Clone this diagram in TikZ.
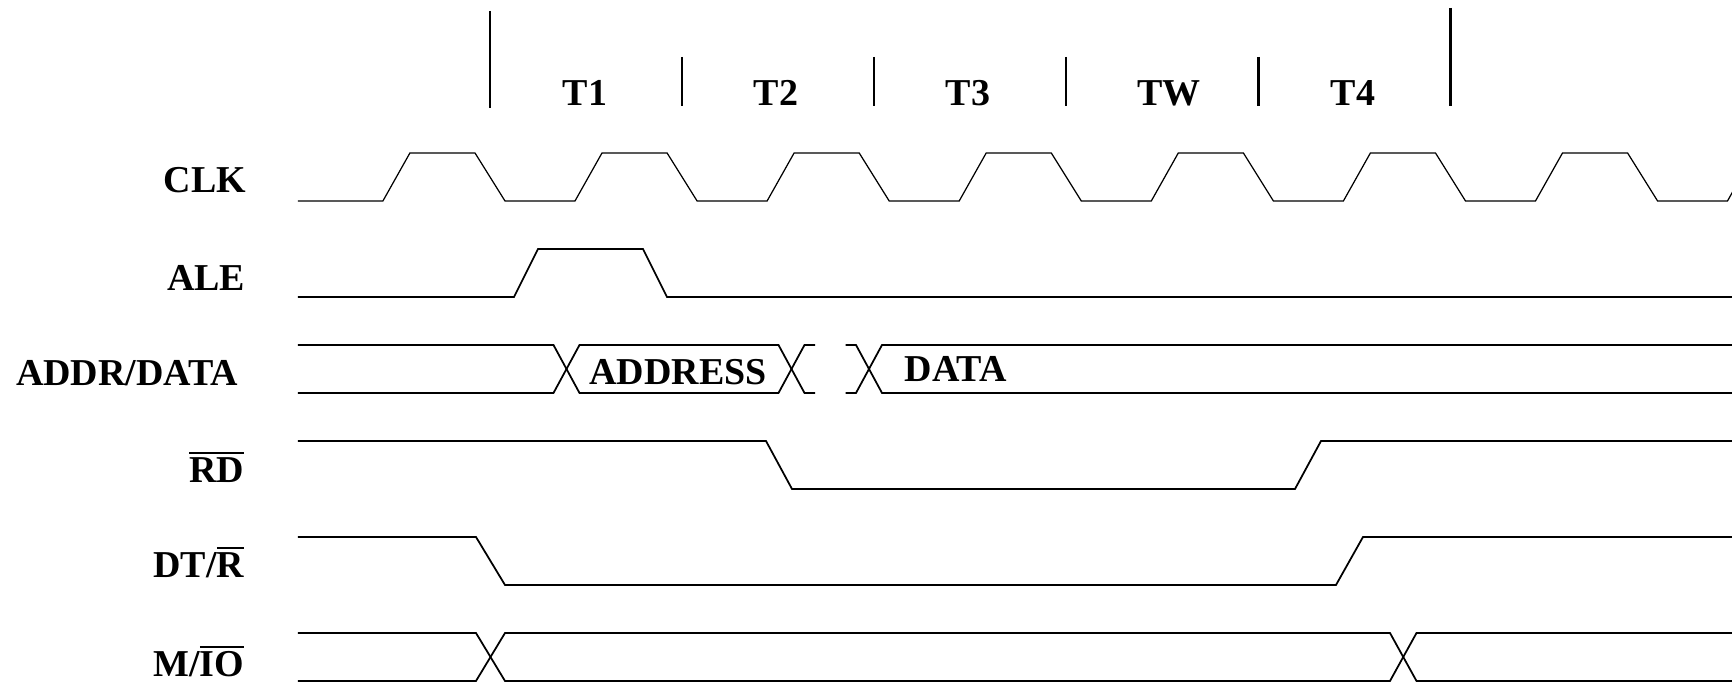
\documentclass[tikz,border=0pt]{standalone}
\usepackage{fontspec}
\setmainfont{Liberation Serif}

\begin{document}
\begin{tikzpicture}[
  x=0.01cm, y=-0.01cm,
  sig/.style={line width=0.5pt},
  clkline/.style={line width=0.35pt},
  tick/.style={line width=0.65pt},
  lbl/.style={anchor=base east, inner sep=0pt, font=\fontsize{10.8}{12}\selectfont\bfseries},
  tlbl/.style={anchor=base, inner sep=0pt, font=\fontsize{10.8}{12}\selectfont\bfseries},
  buslbl/.style={anchor=base west, inner sep=0pt, font=\fontsize{10.8}{12}\selectfont\bfseries}
  ]
\useasboundingbox (0,0) rectangle (1732,686);

\draw[tick] (490,11) -- (490,108);
\foreach \k in {1,...,4}
  \draw[tick] ({490+\k*192.1},57) -- ({490+\k*192.1},106);
\draw[tick] (1450.5,8) -- (1450.5,106);

\foreach \name/\x in {T1/585, T2/776, T3/968, TW/1169, T4/1353}
  \node[tlbl] (\name) at (\x,106) {\name};

\node[lbl] (clk) at (247,193) {CLK};
\node[lbl] (ale) at (246,291) {ALE};
\node[lbl] (addr) at (239,386) {ADDR/DATA};
\node[lbl] (rd) at (245,483) {$\overline{\mbox{RD}}$};
\node[lbl] (dtr) at (245,578) {DT/$\overline{\mbox{R}}$};
\node[lbl] (mio) at (245,677) {M/$\overline{\mbox{IO}}$};

\begin{scope}
\clip (0,0) rectangle (1732,686);
\draw[clkline] (297.9,201) \foreach \k in {-1,...,5} {
    -- ({490+\k*192.1+85},201) -- ({490+\k*192.1+112},153)
    -- ({490+(\k+1)*192.1-15},153) -- ({490+(\k+1)*192.1+15},201)}
  -- (1727.5,201) -- ++(27,-48);
\end{scope}

\draw[sig] (297.9,297) -- (514,297) -- (538,249) -- (643,249) -- (667,297) -- (1732,297);

\draw[sig] (297.9,345) -- (553.5,345) -- (579.5,393) -- (778.5,393) -- (804.5,345) -- (815,345);
\draw[sig] (297.9,393) -- (553.5,393) -- (579.5,345) -- (778.5,345) -- (804.5,393) -- (815,393);
\draw[sig] (845.5,345) -- (856,345) -- (882,393) -- (1732,393);
\draw[sig] (845.5,393) -- (856,393) -- (882,345) -- (1732,345);
\node[tlbl] (address) at (678,385) {ADDRESS};
\node[buslbl] (data) at (904,382) {DATA};

\draw[sig] (297.9,441) -- (766,441) -- (792,489) -- (1295,489) -- (1321,441) -- (1732,441);

\draw[sig] (297.9,537) -- (476,537) -- (505,585) -- (1336,585) -- (1363,537) -- (1732,537);

\draw[sig] (297.9,633) -- (476,633) -- (505,681) -- (1390,681) -- (1416.5,633) -- (1732,633);
\draw[sig] (297.9,681) -- (476,681) -- (505,633) -- (1390,633) -- (1416.5,681) -- (1732,681);

\end{tikzpicture}
\end{document}
